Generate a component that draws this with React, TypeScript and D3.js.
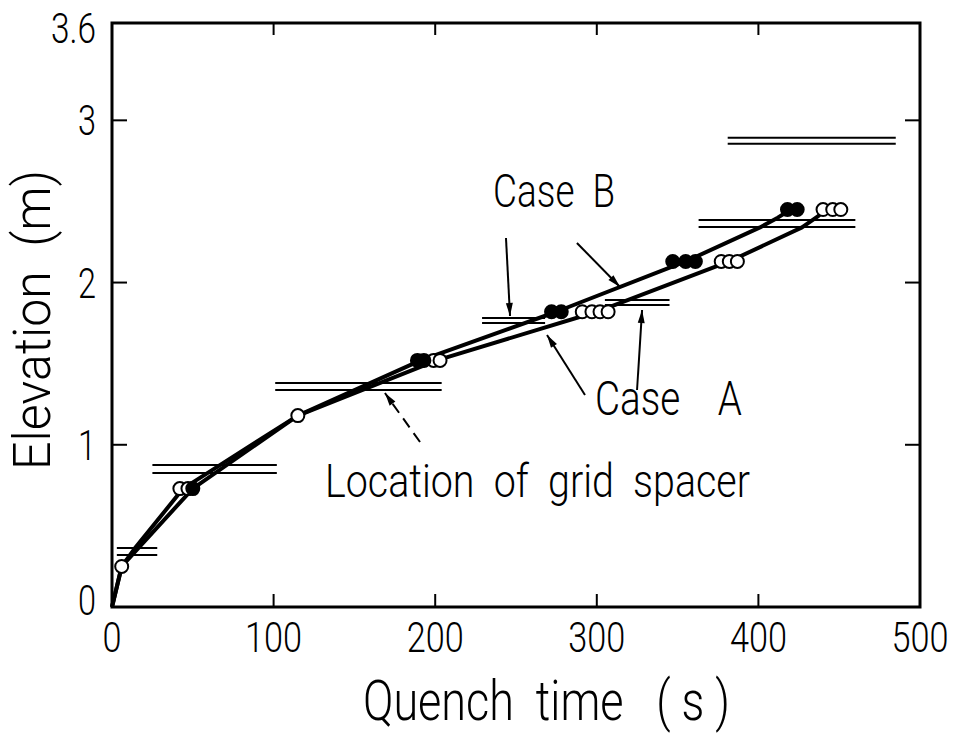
import React from "react";
import * as d3 from "d3";

// ---------- data ----------
const xTickValues = [0, 100, 200, 300, 400, 500];
const xTickLabels = ["0", "100", "200", "300", "400", "500"];
const yTickValues = [0, 1, 2, 3, 3.6];
const yTickLabels = ["0", "1", "2", "3", "3.6"];
const innerXTicks = [100, 200, 300, 400];
const innerYTicks = [1, 2, 3];

// Case B (filled symbols): [quench time s, elevation m]
const caseBPoints: [number, number][] = [
  [50, 0.73],
  [189, 1.52], [193, 1.52],
  [272, 1.82], [278, 1.82],
  [347, 2.13], [355, 2.13], [361, 2.13],
  [418, 2.45], [424, 2.45],
];
// Case A (open symbols)
const caseAPoints: [number, number][] = [
  [6, 0.25],
  [42, 0.73], [47, 0.73],
  [115, 1.18],
  [199, 1.52], [203, 1.52],
  [291, 1.82], [297, 1.82], [302, 1.82], [307, 1.82],
  [377, 2.13], [382, 2.13], [387, 2.13],
  [440, 2.45], [446, 2.45], [451, 2.45],
];
// quench front curves
const caseBLine: [number, number][] = [
  [0, 0], [6, 0.25], [16, 0.36], [50, 0.73], [115, 1.18], [191, 1.52],
  [275, 1.82], [355, 2.13], [401, 2.34], [412, 2.4], [420, 2.45],
];
const caseALine: [number, number][] = [
  [0, 0], [6, 0.25], [14, 0.36], [44, 0.73], [115, 1.18], [201, 1.52],
  [300, 1.82], [382, 2.13], [427, 2.34], [437, 2.41], [441, 2.45],
];
// grid spacers: [t start, t end, upper elevation, lower elevation]
const spacers: [number, number, number, number][] = [
  [3, 28, 0.364, 0.321],
  [25, 102, 0.876, 0.826],
  [101, 204, 1.381, 1.338],
  [229, 268, 1.782, 1.751],
  [305, 345, 1.893, 1.862],
  [363, 460, 2.386, 2.343],
  [381, 485, 2.892, 2.855],
];
// annotation arrows: [t0, e0, t1, e1] (arrow head at t1,e1)
const arrows: [number, number, number, number][] = [
  [243.8, 2.275, 246.3, 1.794],
  [287.7, 2.244, 314.4, 1.973],
  [292.7, 1.307, 269.2, 1.677],
  [324.9, 1.338, 328.0, 1.831],
];
const dashedArrow: [number, number, number, number] = [190.6, 1.017, 168.9, 1.319];

// ---------- layout ----------
const W = 960;
const H = 733;
const FONT = "Roboto, 'Liberation Sans', sans-serif";

export default function App() {
  const x = d3.scaleLinear().domain([0, 500]).range([112, 920]);
  const y = d3.scaleLinear().domain([0, 3.6]).range([607, 23]);
  const line = d3
    .line<[number, number]>()
    .x((d) => x(d[0]))
    .y((d) => y(d[1]));

  const arrowHead = (t0: number, e0: number, t1: number, e1: number) => {
    const x0 = x(t0), y0 = y(e0), x1 = x(t1), y1 = y(e1);
    const ang = Math.atan2(y1 - y0, x1 - x0);
    const L = 13, hw = 3.5;
    const bx = x1 - L * Math.cos(ang), by = y1 - L * Math.sin(ang);
    const px = -Math.sin(ang) * hw, py = Math.cos(ang) * hw;
    return `M${x1},${y1}L${bx + px},${by + py}L${bx - px},${by - py}Z`;
  };

  const txt = (
    s: string,
    px: number,
    py: number,
    size: number,
    len: number,
    anchor: string = "start",
    extra: any = {}
  ) => (
    <text
      x={px}
      y={py}
      fontSize={size}
      fontFamily={FONT}
      fontWeight={300}
      textAnchor={anchor}
      textLength={len}
      lengthAdjust="spacingAndGlyphs"
      fill="#000"
      style={{ whiteSpace: "pre" }}
      {...extra}
    >
      {s}
    </text>
  );

  return (
    <div style={{ position: "fixed", left: 0, top: 0 }}>
      <svg width={W} height={H} style={{ display: "block", background: "#fff" }}>
        <rect x={0} y={0} width={W} height={H} fill="#fff" />
        {/* frame */}
        <rect
          x={x(0)}
          y={y(3.6)}
          width={x(500) - x(0)}
          height={y(0) - y(3.6)}
          fill="none"
          stroke="#000"
          strokeWidth={3}
        />
        {/* ticks */}
        {innerXTicks.map((v) => (
          <g key={"xt" + v}>
            <line x1={x(v)} x2={x(v)} y1={y(0)} y2={y(0) - 13} stroke="#000" strokeWidth={2} />
            <line x1={x(v)} x2={x(v)} y1={y(3.6)} y2={y(3.6) + 12} stroke="#000" strokeWidth={2} />
          </g>
        ))}
        {innerYTicks.map((v) => (
          <g key={"yt" + v}>
            <line x1={x(0)} x2={x(0) + 15} y1={y(v)} y2={y(v)} stroke="#000" strokeWidth={2} />
            <line x1={x(500)} x2={x(500) - 15} y1={y(v)} y2={y(v)} stroke="#000" strokeWidth={2} />
          </g>
        ))}
        {/* tick labels */}
        {xTickValues.map((v, i) =>
          <g key={"xl" + v}>
            {txt(xTickLabels[i], x(v), 652, 42, xTickLabels[i].length * 19, "middle")}
          </g>
        )}
        {yTickValues.map((v, i) => {
          const yy = Math.min(Math.max(y(v), 28), 600);
          const s = yTickLabels[i];
          return (
            <g key={"yl" + v}>
              {txt(s, 96, yy + 15, 42, s.length === 1 ? 18 : 45, "end")}
            </g>
          );
        })}
        {/* axis titles */}
        {txt("Quench  time   ( s )", 363, 720, 56, 367)}
        <g transform="translate(50,470) rotate(-90)">
          {txt("Elevation  (m)", 0, 0, 52, 300)}
        </g>
        {/* grid spacers */}
        {spacers.map((s, i) => (
          <g key={"sp" + i}>
            <line x1={x(s[0])} x2={x(s[1])} y1={y(s[2])} y2={y(s[2])} stroke="#000" strokeWidth={2} />
            <line x1={x(s[0])} x2={x(s[1])} y1={y(s[3])} y2={y(s[3])} stroke="#000" strokeWidth={2} />
          </g>
        ))}
        {/* curves */}
        <path d={line(caseALine) || ""} fill="none" stroke="#000" strokeWidth={4} strokeLinejoin="round" />
        <path d={line(caseBLine) || ""} fill="none" stroke="#000" strokeWidth={4} strokeLinejoin="round" />
        {/* symbols */}
        {caseAPoints.map((p, i) => (
          <circle key={"a" + i} cx={x(p[0])} cy={y(p[1])} r={6.5} fill="#fff" stroke="#000" strokeWidth={2} />
        ))}
        {caseBPoints.map((p, i) => (
          <circle key={"b" + i} cx={x(p[0])} cy={y(p[1])} r={6.5} fill="#000" stroke="#000" strokeWidth={2} />
        ))}
        {/* arrows */}
        {arrows.map((a, i) => (
          <g key={"ar" + i}>
            <line x1={x(a[0])} y1={y(a[1])} x2={x(a[2])} y2={y(a[3])} stroke="#000" strokeWidth={2} />
            <path d={arrowHead(a[0], a[1], a[2], a[3])} fill="#000" />
          </g>
        ))}
        <line
          x1={x(dashedArrow[0])}
          y1={y(dashedArrow[1])}
          x2={x(dashedArrow[2])}
          y2={y(dashedArrow[3])}
          stroke="#000"
          strokeWidth={2}
          strokeDasharray="11 7"
        />
        <path d={arrowHead(...dashedArrow)} fill="#000" />
        {/* annotations */}
        {txt("Case  B", 493, 207, 46, 122)}
        {txt("Case    A", 595, 415, 48, 147)}
        {txt("Location  of  grid  spacer", 325, 497, 47, 425)}
      </svg>
    </div>
  );
}
